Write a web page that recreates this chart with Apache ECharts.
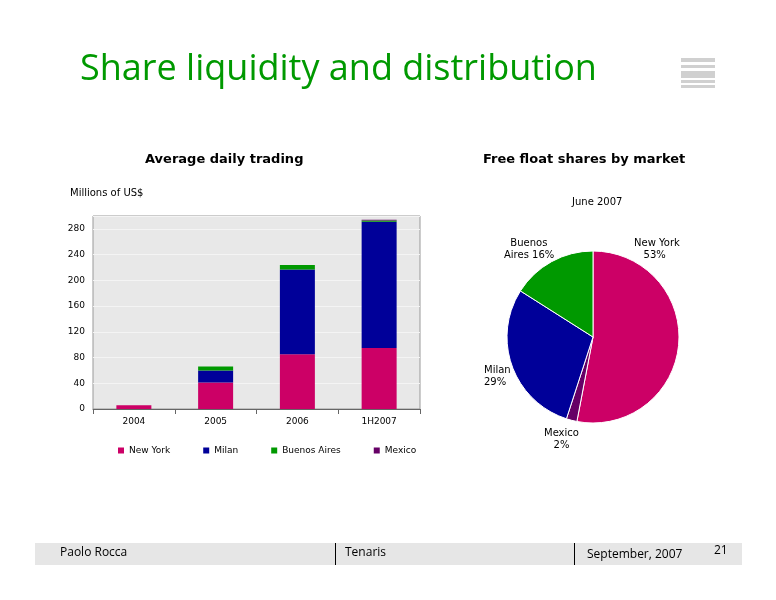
<!DOCTYPE html>
<html><head><meta charset="utf-8">
<script src="https://cdn.jsdelivr.net/npm/echarts@6/dist/echarts.min.js"></script>
<style>html,body{margin:0;padding:0;background:#fff}#c{width:776px;height:600px}</style>
</head><body><div id="c"></div>
<script>
const categories = ['2004', '2005', '2006', '1H2007'];
const newYork = [6, 41, 85, 95];
const milan = [0, 19, 132, 196];
const buenosAires = [0, 6, 7, 2];
const mexico = [0, 0, 0, 1];
const pieNames = ['New York', 'Mexico', 'Milan', 'Buenos\nAires'];
const pieValues = [53, 2, 29, 16];
const colors = ['#cc0066', '#000099', '#009900', '#660066'];

const chart = echarts.init(document.getElementById('c'));
const font = 'DejaVu Sans';
function bar(name, data, color) {
  return { name: name, type: 'bar', stack: 'a', data: data, barWidth: 35,
    itemStyle: { color: color } };
}
const pieColors = ['#cc0066', '#660066', '#000099', '#009900'];
chart.setOption({
  animation: false,
  textStyle: { fontFamily: font },
  graphic: [
    { type: 'text', left: 80, top: 52, style: { text: 'Share liquidity and distribution', fill: '#009900', font: '36px "Open Sans"' } },
    { type: 'text', left: 145, top: 153, style: { text: 'Average daily trading', fill: '#000', font: 'bold 13px ' + font, letterSpacing: 1.5 } },
    { type: 'text', left: 483, top: 153, style: { text: 'Free float shares by market', fill: '#000', font: 'bold 13px ' + font, letterSpacing: 1.8 } },
    { type: 'text', left: 70, top: 188, style: { text: 'Millions of US$', fill: '#000', font: '10px ' + font } },
    { type: 'text', left: 572, top: 197, style: { text: 'June 2007', fill: '#000', font: '10px ' + font } },
    { type: 'rect', shape: { x: 681, y: 58, width: 34, height: 4 }, style: { fill: '#d0d0d0' } },
    { type: 'rect', shape: { x: 681, y: 65, width: 34, height: 3 }, style: { fill: '#d0d0d0' } },
    { type: 'rect', shape: { x: 681, y: 71, width: 34, height: 7 }, style: { fill: '#d0d0d0' } },
    { type: 'rect', shape: { x: 681, y: 80, width: 34, height: 3 }, style: { fill: '#d0d0d0' } },
    { type: 'rect', shape: { x: 681, y: 85, width: 34, height: 3 }, style: { fill: '#d0d0d0' } },
    { type: 'rect', shape: { x: 35, y: 543, width: 707, height: 22 }, style: { fill: '#e6e6e6' } },
    { type: 'rect', shape: { x: 335, y: 543, width: 1, height: 22 }, style: { fill: '#000' } },
    { type: 'rect', shape: { x: 574, y: 543, width: 1, height: 22 }, style: { fill: '#000' } },
    { type: 'text', left: 60, top: 547, style: { text: 'Paolo Rocca', fill: '#000', font: '12px "Open Sans"' } },
    { type: 'text', left: 345, top: 547, style: { text: 'Tenaris', fill: '#000', font: '12px "Open Sans"' } },
    { type: 'text', left: 587, top: 549, style: { text: 'September, 2007', fill: '#000', font: '12px "Open Sans"' } },
    { type: 'text', left: 714, top: 545, style: { text: '21', fill: '#000', font: '12px "Open Sans"' } },
    { type: 'text', left: 634, top: 237, style: { text: 'New York\n   53%', fill: '#000', font: '10px ' + font, lineHeight: 12 } },
    { type: 'text', left: 504, top: 237, style: { text: '  Buenos\nAires 16%', fill: '#000', font: '10px ' + font, lineHeight: 12 } },
    { type: 'text', left: 484, top: 364, style: { text: 'Milan\n29%', fill: '#000', font: '10px ' + font, lineHeight: 12 } },
    { type: 'text', left: 544, top: 427, style: { text: 'Mexico\n   2%', fill: '#000', font: '10px ' + font, lineHeight: 12 } }
  ],
  legend: { left: 113, top: 441, itemWidth: 6, itemHeight: 6, itemGap: 33, icon: 'rect',
    textStyle: { fontSize: 9, fontFamily: font, color: '#000', letterSpacing: 0.5 },
    data: ['New York', 'Milan', 'Buenos Aires', 'Mexico'] },
  grid: { left: 93, top: 216, width: 327, height: 193, backgroundColor: '#e8e8e8', show: true, borderColor: '#999' },
  xAxis: { type: 'category', data: categories,
    axisLine: { lineStyle: { color: '#666' } }, axisTick: { show: true, lineStyle: { color: '#666' } },
    axisLabel: { color: '#000', fontSize: 9, margin: 8 } },
  yAxis: { type: 'value', min: 0, max: 300, interval: 40,
    splitLine: { lineStyle: { color: '#f4f4f4' } }, axisLine: { show: false }, axisTick: { show: false },
    axisLabel: { color: '#000', fontSize: 9, formatter: v => v > 280 ? '' : v } },
  series: [
    bar('New York', newYork, colors[0]),
    bar('Milan', milan, colors[1]),
    bar('Buenos Aires', buenosAires, colors[2]),
    bar('Mexico', mexico, colors[3]),
    { type: 'pie', center: [593, 337], radius: 86, startAngle: 90, clockwise: true,
      data: pieNames.map((n, i) => ({ name: n, value: pieValues[i], itemStyle: { color: pieColors[i] } })),
      itemStyle: { borderColor: '#fff', borderWidth: 1 },
      label: { show: false }, labelLine: { show: false }, silent: true }
  ]
});
</script></body></html>
